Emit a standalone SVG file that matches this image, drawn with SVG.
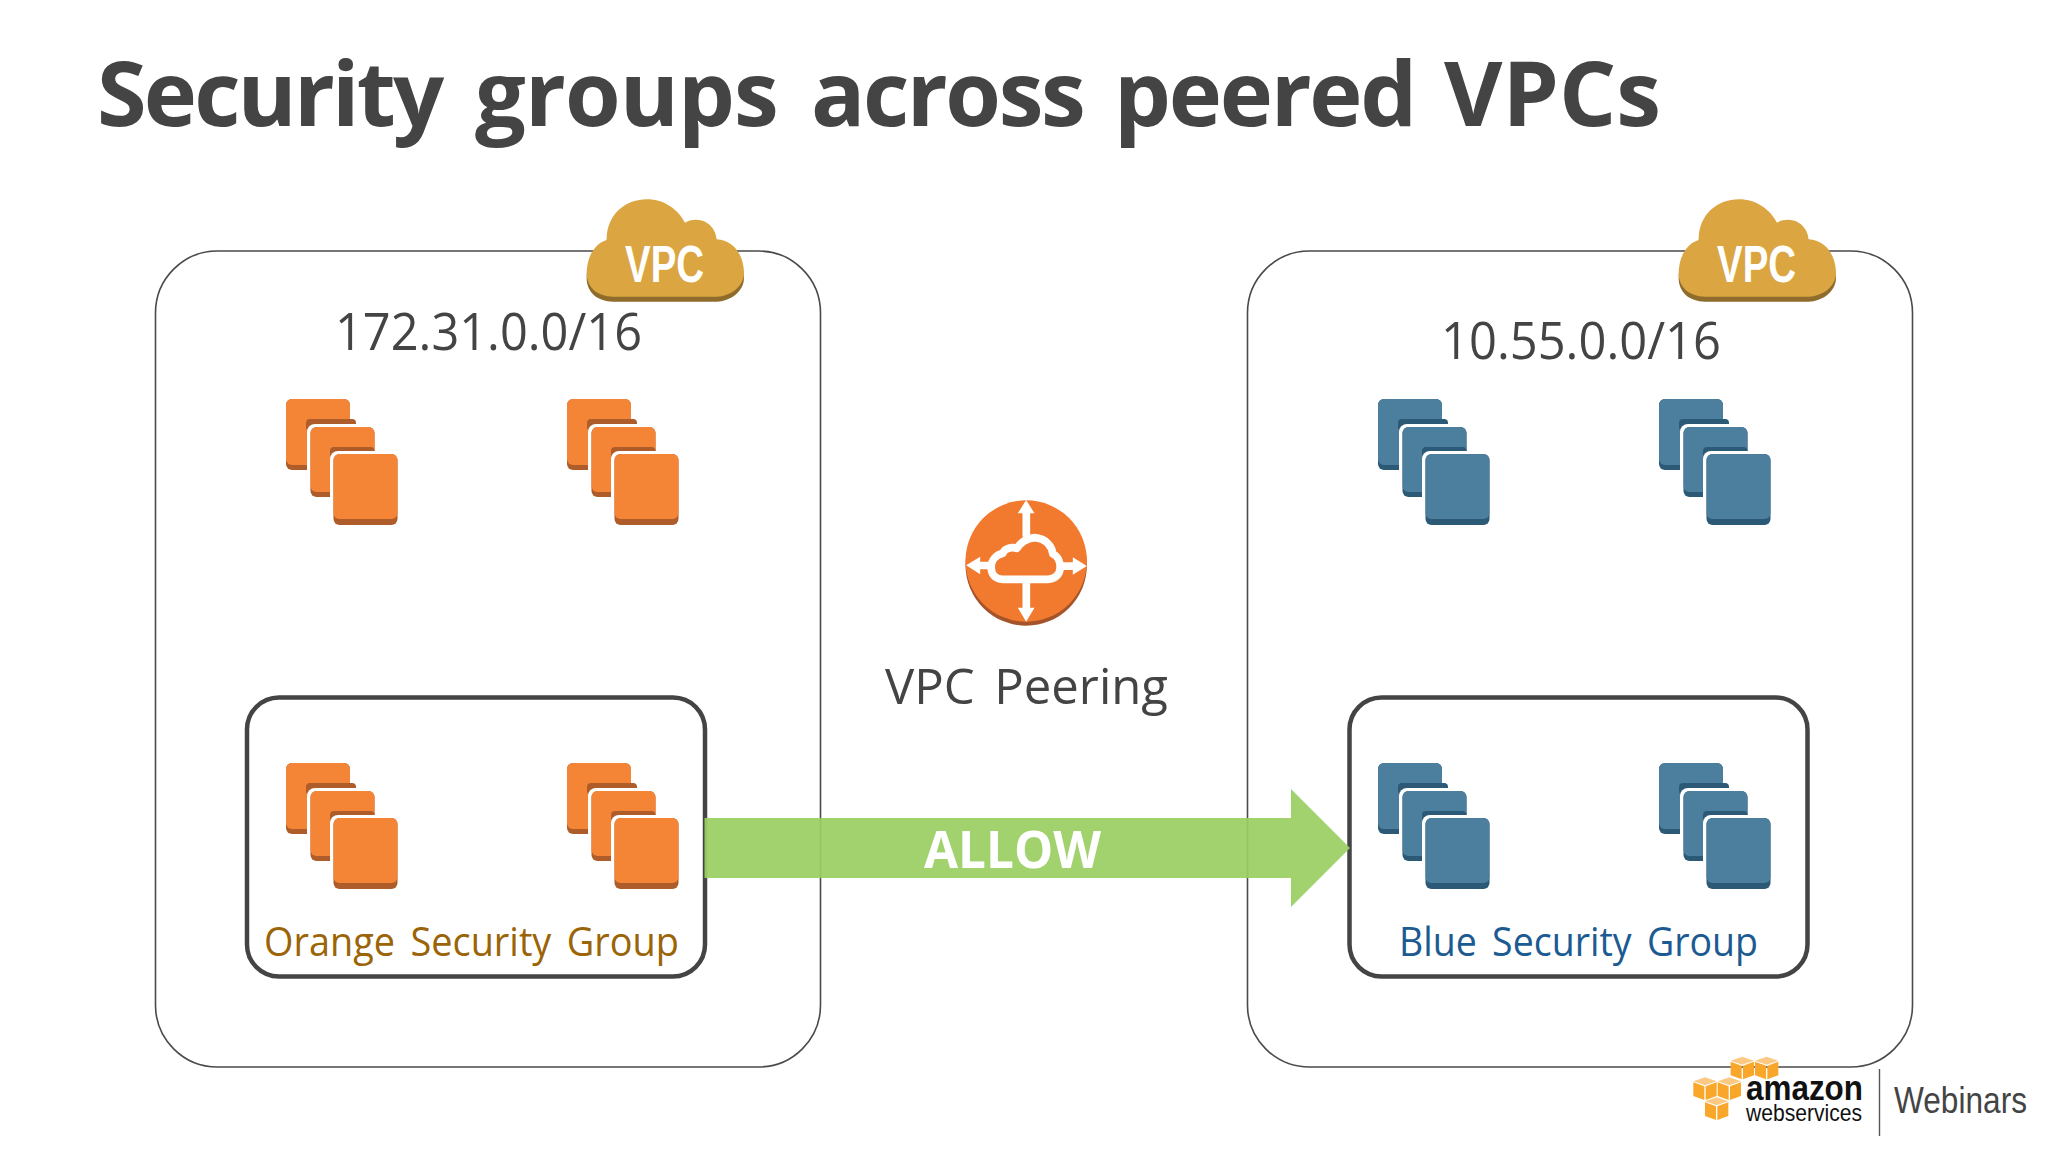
<svg xmlns="http://www.w3.org/2000/svg" width="2048" height="1152" viewBox="0 0 2048 1152">
<style>
text{font-family:"Open Sans","Noto Sans","Liberation Sans",sans-serif}
.vpc{fill:none;stroke:#4a4a4a;stroke-width:1.6}
.sg{fill:none;stroke:#444;stroke-width:4.5}
.cidr{font-size:51px;fill:#444}
.cl{font-size:52px;font-weight:700;fill:#fff;font-family:"Liberation Sans Narrow","Liberation Sans",sans-serif}
.o1{fill:#F58536}.o2{fill:#AD5C2A}.b1{fill:#4C7E9E}.b2{fill:#2C5A76}
.logo{font-family:"Liberation Sans",Arial,sans-serif}
</style>
<defs>
<g id="cloud">
<path fill="#8F6C2C" transform="translate(0,15)" d="M200,180C200,100 260,58 320,58C375,58 415,90 435,128C450,118 480,115 500,128C520,140 528,160 530,178C580,180 612,225 612,280C612,320 570,350 530,350L220,350C170,350 140,320 140,280C140,230 165,190 200,180Z"/>
<path fill="#DBA642" d="M200,180C200,100 260,58 320,58C375,58 415,90 435,128C450,118 480,115 500,128C520,140 528,160 530,178C580,180 612,225 612,280C612,320 570,350 530,350L220,350C170,350 140,320 140,280C140,230 165,190 200,180Z"/>
</g>
<g id="stack-orange">
<rect x="286" y="399" width="64" height="71" rx="6" class="o2"/><rect x="286" y="399" width="64" height="66" rx="6" class="o1"/>
<rect x="306" y="419" width="50" height="12" rx="4" class="o2"/><rect x="307" y="424" width="70" height="77" rx="8" fill="#fff"/>
<rect x="310.500" y="427" width="64" height="70" rx="6" class="o2"/><rect x="310.500" y="427" width="64" height="65" rx="6" class="o1"/>
<rect x="330" y="447" width="44.500" height="12" rx="4" class="o2"/><rect x="330" y="451" width="71" height="78" rx="8" fill="#fff"/>
<rect x="333.500" y="454" width="64" height="71" rx="6" class="o2"/><rect x="333.500" y="454" width="64" height="65" rx="6" class="o1"/>
</g>
<g id="stack-blue">
<rect x="286" y="399" width="64" height="71" rx="6" class="b2"/><rect x="286" y="399" width="64" height="66" rx="6" class="b1"/>
<rect x="306" y="419" width="50" height="12" rx="4" class="b2"/><rect x="307" y="424" width="70" height="77" rx="8" fill="#fff"/>
<rect x="310.500" y="427" width="64" height="70" rx="6" class="b2"/><rect x="310.500" y="427" width="64" height="65" rx="6" class="b1"/>
<rect x="330" y="447" width="44.500" height="12" rx="4" class="b2"/><rect x="330" y="451" width="71" height="78" rx="8" fill="#fff"/>
<rect x="333.500" y="454" width="64" height="71" rx="6" class="b2"/><rect x="333.500" y="454" width="64" height="65" rx="6" class="b1"/>
</g>
<g id="cube">
<polygon points="35,0 70,12 35,24 0,12" fill="#FBC983"/>
<polygon points="0,15 33,27 33,68 0,56" fill="#F9A72B"/>
<polygon points="37,27 70,15 70,56 37,68" fill="#F9A72B"/>
</g>
</defs>
<rect width="2048" height="1152" fill="#fff"/>
<text id="title" y="126" font-size="90" font-weight="700" fill="#444"><tspan x="97" letter-spacing="-2.800">Security</tspan> <tspan x="475" letter-spacing="-0.900">groups</tspan> <tspan x="811" letter-spacing="-2.400">across</tspan> <tspan x="1114" letter-spacing="-2.200">peered</tspan> <tspan x="1444">VPCs</tspan></text>

<g id="vpc-left">
<rect class="vpc" x="155.500" y="251" width="665" height="816" rx="62"/>
<use href="#cloud" transform="translate(540,180) scale(0.3333)"/>
<text class="cl" x="625" y="282" textLength="79" lengthAdjust="spacingAndGlyphs">VPC</text>
<text class="cidr" x="335" y="350" textLength="307" lengthAdjust="spacingAndGlyphs">172.31.0.0/16</text>
</g>
<g id="vpc-right">
<rect class="vpc" x="1247.500" y="251" width="665" height="816" rx="62"/>
<use href="#cloud" transform="translate(1632,180) scale(0.3333)"/>
<text class="cl" x="1717" y="282" textLength="79" lengthAdjust="spacingAndGlyphs">VPC</text>
<text class="cidr" x="1441" y="359" textLength="280" lengthAdjust="spacingAndGlyphs">10.55.0.0/16</text>
</g>

<g id="instances-left-top"><use href="#stack-orange"/><use href="#stack-orange" x="281"/></g>
<g id="instances-right-top"><use href="#stack-blue" x="1092"/><use href="#stack-blue" x="1373"/></g>

<g id="orange-security-group">
<rect class="sg" x="247" y="697.500" width="458" height="279" rx="32"/>
<use href="#stack-orange" y="364"/><use href="#stack-orange" x="281" y="364"/>
<text x="264" y="956" font-size="40" fill="#9A6407" word-spacing="6" textLength="415" lengthAdjust="spacingAndGlyphs">Orange Security Group</text>
</g>
<g id="blue-security-group">
<rect class="sg" x="1349.500" y="697.500" width="458" height="279" rx="32"/>
<use href="#stack-blue" x="1092" y="364"/><use href="#stack-blue" x="1373" y="364"/>
<text x="1399" y="956" font-size="40" fill="#1C5A92" word-spacing="6" textLength="359" lengthAdjust="spacingAndGlyphs">Blue Security Group</text>
</g>

<g id="vpc-peering">
<circle cx="1026.200" cy="565" r="60.700" fill="#A5532A"/>
<circle cx="1026.200" cy="561" r="60.700" fill="#F27A2E"/>
<g transform="translate(939.500,480) scale(0.3333)" fill="#fff">
<polygon points="260,60 285,100 272,100 272,170 249,170 249,100 235,100"/>
<polygon points="260,425 285,383 272,383 272,300 249,300 249,383 235,383"/>
<polygon points="80,256 122,230 122,245 165,245 165,268 122,268 122,283"/>
<polygon points="442,258 400,232 400,247 355,247 355,270 400,270 400,284"/>
<path fill="#F27A2E" stroke="#fff" stroke-width="23" stroke-linejoin="round" d="M190,298C165,298 155,280 155,262C155,240 170,225 190,220C195,205 215,200 232,205C245,185 265,175 285,173C320,175 338,200 340,222C355,228 362,245 362,262C362,285 345,298 325,298Z"/>
</g>
<text x="885" y="704" font-size="50" fill="#444" word-spacing="7" textLength="283" lengthAdjust="spacingAndGlyphs">VPC Peering</text>
</g>

<g id="connectors">
<polygon points="704.500,818 1291,818 1291,789 1350,848 1291,907 1291,878 704.500,878" fill="#9ACF63" fill-opacity="0.93"/>
<text x="924" y="868" font-size="52" font-weight="700" fill="#fff" textLength="177" lengthAdjust="spacingAndGlyphs">ALLOW</text>
</g>

<g id="aws-webinars-logo">
<g transform="translate(1670,1040) scale(0.3333)">
<use href="#cube" x="182" y="50"/><use href="#cube" x="255" y="50"/>
<use href="#cube" x="70" y="112"/><use href="#cube" x="143" y="112"/>
<use href="#cube" x="105" y="172"/>
</g>
<text class="logo" x="1746" y="1100" font-size="35" font-weight="700" fill="#111" textLength="117" lengthAdjust="spacingAndGlyphs">amazon</text>
<text class="logo" x="1746" y="1121" font-size="24" fill="#111" textLength="116" lengthAdjust="spacingAndGlyphs">webservices</text>
<line x1="1879.500" y1="1069" x2="1879.500" y2="1136" stroke="#555" stroke-width="1.400"/>
<text class="logo" x="1894" y="1113" font-size="37" fill="#444" textLength="133" lengthAdjust="spacingAndGlyphs">Webinars</text>
</g>
</svg>
